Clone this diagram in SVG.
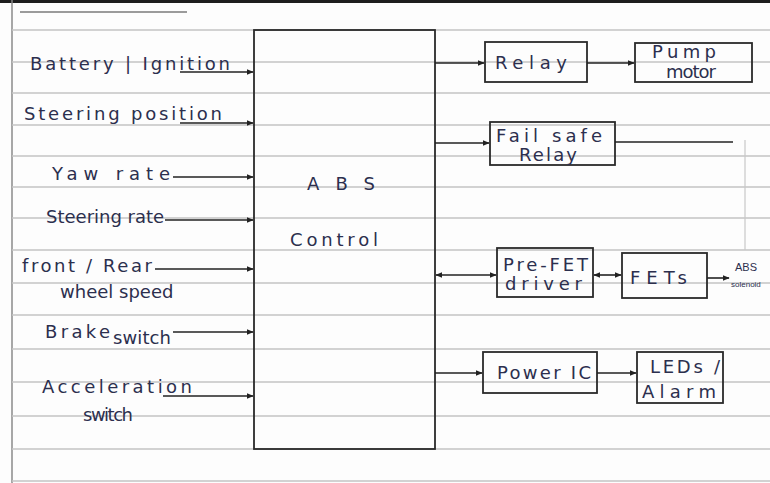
<svg xmlns="http://www.w3.org/2000/svg" width="770" height="483" viewBox="0 0 770 483">
<defs>
<style>
.rule{stroke:#c4c4c4;stroke-width:1.3;fill:none}
.pen{stroke:#222;stroke-width:1.6;fill:none}
.box{stroke:#2a2a2a;stroke-width:1.8;fill:none}
.t{font-family:"DejaVu Sans","Liberation Sans",sans-serif;fill:#2c2f4e;font-size:18px}
.n{font-family:"Liberation Sans",Arial,sans-serif;fill:#2c2f4e}
</style>
<marker id="ah" viewBox="0 0 10 10" refX="9" refY="5" markerWidth="7" markerHeight="7" orient="auto-start-reverse" markerUnits="userSpaceOnUse">
<path d="M0,1 L10,5 L0,9 z" fill="#222"/>
</marker>
</defs>
<rect width="770" height="483" fill="#fdfdfd"/>
<g id="paper">
<line x1="0" y1="1.5" x2="770" y2="1.5" stroke="#1e1e1e" stroke-width="3"/>
<line x1="20" y1="12" x2="187" y2="12" stroke="#7a7a7a" stroke-width="1.6"/>
<line x1="12" y1="0" x2="12" y2="483" stroke="#8a8a8a" stroke-width="1.5"/>
<path class="rule" d="M12 30H770M12 62H770M12 93H770M12 125H770M12 156H770M12 187H770M12 218H770M12 250H770M12 283H770M12 315H770M12 349H770M12 382H770M12 416H770M12 449H770M12 481H770"/>
</g>
<g id="abs-control">
<rect class="box" x="254" y="30" width="181" height="419"/>
<text class="t" x="307" y="190" font-size="20" textLength="68" lengthAdjust="spacing">ABS</text>
<text class="t" x="290" y="246" textLength="88" lengthAdjust="spacing">Control</text>
</g>
<g id="relay">
<rect class="box" x="485" y="42" width="102" height="40"/>
<text class="t" x="495" y="69" font-size="19" textLength="72" lengthAdjust="spacing">Relay</text>
</g>
<g id="pump-motor">
<rect class="box" x="635" y="43" width="117" height="39"/>
<text class="t" x="652" y="58" font-size="15" textLength="64" lengthAdjust="spacing">Pump</text>
<text class="t" x="666" y="78" font-size="11" textLength="50" lengthAdjust="spacing">motor</text>
</g>
<g id="fail-safe-relay">
<rect class="box" x="490" y="122" width="125" height="43"/>
<text class="t" x="496" y="142" font-size="18" textLength="106" lengthAdjust="spacing">Fail safe</text>
<text class="t" x="519" y="161" font-size="17" textLength="58" lengthAdjust="spacing">Relay</text>
</g>
<g id="pre-fet-driver">
<rect class="box" x="497" y="248" width="96" height="49"/>
<text class="t" x="503" y="271" font-size="16" textLength="85" lengthAdjust="spacing">Pre-FET</text>
<text class="t" x="505" y="290" font-size="16" textLength="77" lengthAdjust="spacing">driver</text>
</g>
<g id="fets">
<rect class="box" x="622" y="253" width="85" height="45"/>
<text class="t" x="630" y="284" font-size="18" textLength="57" lengthAdjust="spacing">FETs</text>
</g>
<g id="abs-solenoid">
<text class="n" x="735" y="271" font-size="11">ABS</text>
<text class="n" x="731" y="287" font-size="8">solenoid</text>
</g>
<g id="power-ic">
<rect class="box" x="483" y="352" width="114" height="41"/>
<text class="t" x="497" y="379" font-size="17" textLength="94" lengthAdjust="spacing">Power IC</text>
</g>
<g id="leds-alarm">
<rect class="box" x="637" y="352" width="86" height="51"/>
<text class="t" x="650" y="373" font-size="16" textLength="70" lengthAdjust="spacing">LEDs /</text>
<text class="t" x="642" y="398" font-size="17" textLength="74" lengthAdjust="spacing">Alarm</text>
</g>
<g id="inputs">
<text class="t" x="30" y="70" font-size="19" textLength="200" lengthAdjust="spacing">Battery | Ignition</text>
<text class="t" x="24" y="120" font-size="18" textLength="198" lengthAdjust="spacing">Steering position</text>
<text class="t" x="52" y="180" font-size="19" textLength="118" lengthAdjust="spacing">Yaw rate</text>
<text class="t" x="46" y="223" font-size="18">Steering rate</text>
<text class="t" x="22" y="272" font-size="18" textLength="130" lengthAdjust="spacing">front / Rear</text>
<text class="t" x="60" y="298" font-size="15">wheel speed</text>
<text class="t" x="45" y="338" font-size="19" textLength="65" lengthAdjust="spacing">Brake</text>
<text class="t" x="113" y="344" font-size="14" textLength="58" lengthAdjust="spacing">switch</text>
<text class="t" x="42" y="393" font-size="18" textLength="150" lengthAdjust="spacing">Acceleration</text>
<text class="t" x="83" y="421" font-size="13" textLength="50" lengthAdjust="spacing">switch</text>
</g>
<g id="connectors">
<line class="pen" x1="180" y1="72" x2="253" y2="72" marker-end="url(#ah)"/>
<line class="pen" x1="180" y1="123" x2="253" y2="123" marker-end="url(#ah)"/>
<line class="pen" x1="173" y1="177" x2="253" y2="177" marker-end="url(#ah)"/>
<line class="pen" x1="165" y1="220" x2="253" y2="220" marker-end="url(#ah)"/>
<line class="pen" x1="155" y1="269" x2="253" y2="269" marker-end="url(#ah)"/>
<line class="pen" x1="173" y1="332" x2="253" y2="332" marker-end="url(#ah)"/>
<line class="pen" x1="163" y1="396" x2="253" y2="396" marker-end="url(#ah)"/>
<line class="pen" x1="435" y1="63" x2="484" y2="63" marker-end="url(#ah)"/>
<line class="pen" x1="587" y1="63" x2="634" y2="63" marker-end="url(#ah)"/>
<line class="pen" x1="435" y1="143" x2="489" y2="143" marker-end="url(#ah)"/>
<line class="pen" x1="615" y1="142" x2="733" y2="142"/>
<line x1="745" y1="140" x2="745" y2="250" stroke="#c8c8c8" stroke-width="1.2"/>
<line class="pen" x1="436" y1="275" x2="496" y2="275" marker-start="url(#ah)" marker-end="url(#ah)"/>
<line class="pen" x1="594" y1="275" x2="621" y2="275" marker-start="url(#ah)" marker-end="url(#ah)"/>
<line class="pen" x1="707" y1="278" x2="729" y2="278" marker-end="url(#ah)"/>
<line class="pen" x1="435" y1="373" x2="482" y2="373" marker-end="url(#ah)"/>
<line class="pen" x1="597" y1="373" x2="636" y2="373" marker-end="url(#ah)"/>
</g>
</svg>
